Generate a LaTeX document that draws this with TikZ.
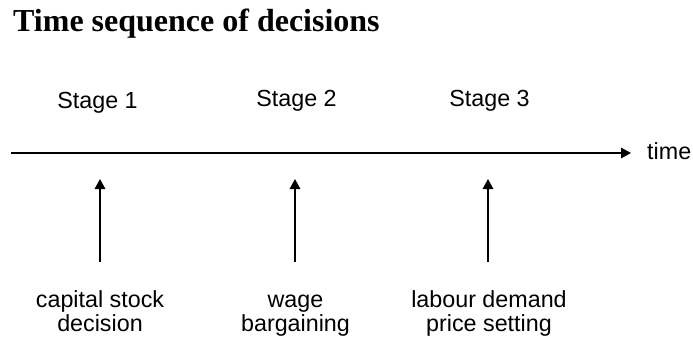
\documentclass[tikz,border=0pt]{standalone}
\usepackage{fontspec}
\setmainfont{Liberation Sans}
\newfontfamily\titlefont{Liberation Serif}
\usetikzlibrary{arrows.meta}
\tikzset{
  lbl/.style={inner sep=0pt, anchor=base, font=\fontsize{23.3}{24}\selectfont},
  ttl/.style={inner sep=0pt, anchor=base west, font=\titlefont\bfseries\fontsize{32}{36}\selectfont},
  arr/.style={line width=1.6pt, -{Triangle[length=10pt,width=10.5pt]}}
}
\begin{document}
\begin{tikzpicture}[x=1pt,y=-1pt]
\useasboundingbox (0,0) rectangle (693,342);
\node[ttl] (title) at (13,32) {Time sequence of decisions};
% stages
\node[lbl] (st1) at (97.5,109) {Stage 1};
\node[lbl] (st2) at (296.5,107) {Stage 2};
\node[lbl] (st3) at (489.5,107) {Stage 3};
% timeline
\coordinate (tstart) at (11,153);
\coordinate (tend) at (631,153);
\node[lbl, anchor=base west] (time) at (647,159) {time};
\draw[arr] (tstart) -- (tend);
% decision labels
\node[lbl] (d1a) at (100,307) {capital stock};
\node[lbl] (d1b) at (100,331) {decision};
\node[lbl] (d2a) at (295.5,307) {wage};
\node[lbl] (d2b) at (295.5,331) {bargaining};
\node[lbl] (d3a) at (489,307) {labour demand};
\node[lbl] (d3b) at (489,331) {price setting};
% arrows
\coordinate (b1) at (100,262); \coordinate (t1) at (100,179);
\coordinate (b2) at (295,262); \coordinate (t2) at (295,179);
\coordinate (b3) at (488,262); \coordinate (t3) at (488,179);
\draw[arr] (b1) -- (t1);
\draw[arr] (b2) -- (t2);
\draw[arr] (b3) -- (t3);
\end{tikzpicture}
\end{document}
